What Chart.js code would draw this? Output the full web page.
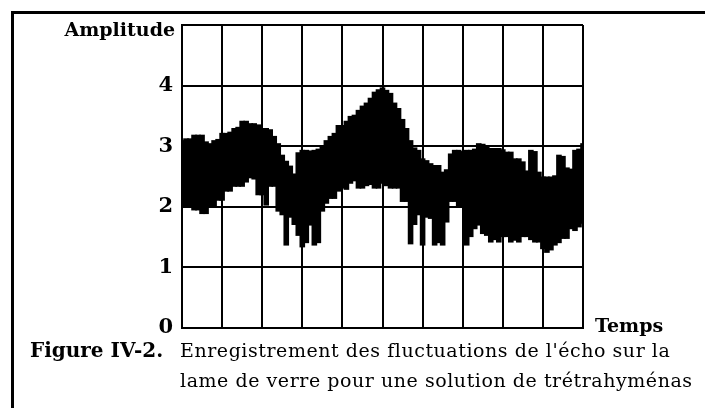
<!DOCTYPE html>
<html>
<head>
<meta charset="utf-8">
<script src="https://cdn.jsdelivr.net/npm/chart.js@4/dist/chart.umd.min.js"></script>
<style>
  html, body { margin: 0; padding: 0; background: #fff; }
  #wrap { position: relative; width: 705px; height: 408px; overflow: hidden; }
  #frame { position: absolute; left: 11px; top: 11px; width: 720px; height: 420px;
           border-left: 3px solid #000; border-top: 3px solid #000; }
  #chart { position: absolute; left: 0; top: 0; }
  .lbl { position: absolute; font-family: "DejaVu Serif", serif; color: #000;
         white-space: nowrap; line-height: 1; }
  .b { font-weight: bold; }
  .cap { font-size: 19px; letter-spacing: 0.55px; }
</style>
</head>
<body>
<div id="wrap">
  <div id="frame"></div>
  <canvas id="chart" width="705" height="408"></canvas>
  <div class="lbl b" style="right:530px; top:20px; font-size:19px;">Amplitude</div>
  <div class="lbl b" style="left:595px; top:316px; font-size:19px;">Temps</div>
  <div class="lbl b" style="left:30px; top:340px; font-size:20px;">Figure IV-2.</div>
  <div class="lbl cap" style="left:180px; top:341px;">Enregistrement des fluctuations de l'écho sur la</div>
  <div class="lbl cap" style="left:180px; top:371px;">lame de verre pour une solution de trétrahyménas</div>
</div>
<script>
// amplitude envelope of the echo, one sample per time unit (0..100)
const upperEnv = [
  3.10, 3.13, 3.13, 3.19, 3.19, 3.19, 3.08, 3.05, 3.10, 3.12,
  3.22, 3.22, 3.24, 3.30, 3.32, 3.42, 3.42, 3.38, 3.38, 3.36,
  3.30, 3.30, 3.28, 3.17, 3.05, 2.86, 2.76, 2.68, 2.55, 2.90,
  2.94, 2.94, 2.93, 2.94, 2.96, 3.02, 3.10, 3.17, 3.22, 3.35,
  3.35, 3.42, 3.50, 3.52, 3.60, 3.67, 3.72, 3.80, 3.90, 3.94,
  3.97, 3.93, 3.88, 3.72, 3.63, 3.45, 3.30, 3.10, 2.98, 2.94,
  2.80, 2.77, 2.72, 2.69, 2.69, 2.58, 2.62, 2.88, 2.94, 2.94,
  2.92, 2.94, 2.94, 2.96, 3.05, 3.04, 3.02, 2.97, 2.97, 2.97,
  2.95, 2.91, 2.91, 2.80, 2.80, 2.75, 2.60, 2.94, 2.92, 2.58,
  2.50, 2.50, 2.50, 2.52, 2.86, 2.84, 2.65, 2.63, 2.94, 2.96,
  3.05
];
const lowerEnv = [
  2.00, 2.00, 2.00, 1.94, 1.94, 1.88, 1.88, 2.00, 2.00, 2.10,
  2.10, 2.25, 2.25, 2.33, 2.33, 2.33, 2.40, 2.47, 2.45, 2.19,
  2.19, 2.02, 2.33, 2.33, 1.92, 1.86, 1.36, 1.82, 1.70, 1.52,
  1.33, 1.40, 1.69, 1.36, 1.40, 1.92, 2.05, 2.13, 2.13, 2.25,
  2.30, 2.28, 2.38, 2.42, 2.30, 2.30, 2.34, 2.36, 2.30, 2.30,
  2.38, 2.34, 2.30, 2.30, 2.30, 2.08, 2.08, 1.38, 1.70, 1.86,
  1.36, 1.82, 1.80, 1.36, 1.40, 1.36, 1.74, 2.08, 2.08, 2.00,
  2.00, 1.36, 1.50, 1.63, 1.69, 1.55, 1.52, 1.41, 1.45, 1.41,
  1.50, 1.50, 1.41, 1.44, 1.41, 1.50, 1.50, 1.45, 1.41, 1.41,
  1.30, 1.24, 1.28, 1.36, 1.40, 1.47, 1.47, 1.63, 1.60, 1.66,
  1.72
];
const yTicks = [0, 1, 2, 3, 4];

// each sample is a floating bar spanning the trace from its low to its high
const band = lowerEnv.map((lo, i) => ({ x: i, y: [lo, upperEnv[i]] }));

new Chart(document.getElementById("chart"), {
  type: "bar",
  data: {
    datasets: [{
      data: band, backgroundColor: "#000", borderWidth: 0,
      barPercentage: 1.4, categoryPercentage: 1, inflateAmount: 0
    }]
  },
  options: {
    responsive: false,
    animation: false,
    events: [],
    layout: { padding: { left: 0, right: 122, top: 25, bottom: 80 } },
    plugins: { legend: { display: false }, tooltip: { enabled: false } },
    scales: {
      x: {
        type: "linear", min: 0, max: 100, offset: false,
        ticks: { display: false, stepSize: 10 },
        grid: { color: "#000", lineWidth: 2, drawTicks: false, offset: false },
        border: { color: "#000", width: 2 },
        afterFit: s => { s.height = 0; }
      },
      y: {
        min: 0, max: 5,
        afterFit: s => { s.width = 182; },
        ticks: {
          stepSize: 1, padding: 9, color: "#000",
          font: { family: "DejaVu Serif", weight: "bold", size: 21 },
          callback: v => yTicks.includes(v) ? String(v) : ""
        },
        grid: { color: "#000", lineWidth: 2, drawTicks: false },
        border: { color: "#000", width: 2 }
      }
    }
  }
});
</script>
</body>
</html>
